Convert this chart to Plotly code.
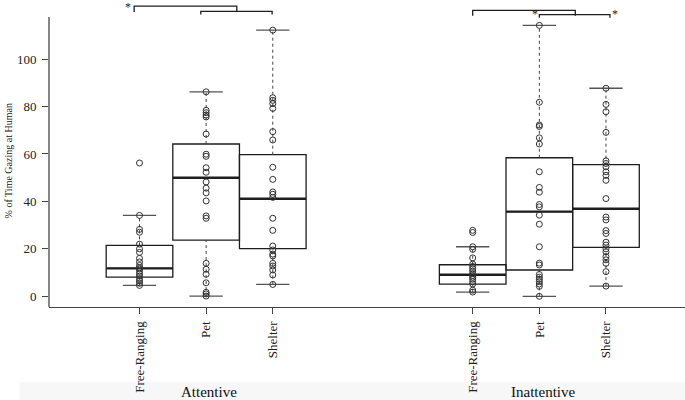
import plotly.graph_objects as go

# ---------------- data ----------------
groups = ["Attentive", "Inattentive"]
categories = ["Free-Ranging", "Pet", "Shelter"]
positions = [1, 2, 3, 6, 7, 8]
tick_labels = categories + categories

# box statistics
q1_vals = [8.1, 23.7, 20.1, 5.1, 11.1, 20.6]
median_vals = [11.8, 50.0, 41.1, 9.1, 35.7, 36.9]
q3_vals = [21.5, 64.2, 59.7, 13.3, 58.4, 55.5]
lower_whisker = [4.6, 0.1, 5.0, 1.8, 0.0, 4.3]
upper_whisker = [34.1, 86.2, 112.2, 20.9, 114.2, 87.7]

# individual observations
att_free = [56.2, 34.1, 28.2, 27.0, 22.0, 20.0, 18.5, 16.0, 14.5, 13.0, 12.0, 11.5,
            10.5, 9.5, 8.5, 7.5, 6.5, 5.5, 4.6]
att_pet = [86.2, 78.4, 77.4, 76.4, 75.6, 68.4, 59.9, 59.0, 54.2, 52.3, 48.2, 45.6,
           43.6, 40.2, 33.9, 32.9, 13.9, 11.4, 9.3, 5.7, 1.7, 1.0, 0.1]
att_shelter = [112.2, 83.7, 82.6, 81.2, 79.2, 69.4, 65.9, 54.4, 49.3, 44.0, 43.0, 41.7,
               32.9, 27.8, 21.2, 19.5, 17.8, 17.0, 13.9, 12.8, 11.1, 9.0, 5.0]
inatt_free = [27.8, 26.9, 20.9, 19.8, 16.2, 13.6, 12.6, 11.6, 10.6, 9.6, 8.8, 8.0,
              7.2, 6.2, 5.2, 2.6, 1.8]
inatt_pet = [114.2, 81.8, 72.2, 71.6, 66.8, 64.2, 52.5, 45.9, 43.9, 38.7, 37.7, 34.2,
             30.4, 20.9, 14.0, 13.2, 9.2, 8.1, 7.2, 6.2, 5.2, 4.2, 0.0]
inatt_shelter = [87.7, 80.9, 77.8, 69.1, 57.1, 56.0, 54.6, 52.5, 51.0, 48.9, 41.2, 33.4,
                 32.2, 27.7, 26.5, 22.8, 21.6, 20.0, 18.8, 16.7, 15.4, 13.9, 10.4, 4.3]
observations = [att_free, att_pet, att_shelter, inatt_free, inatt_pet, inatt_shelter]

y_ticks = [0, 20, 40, 60, 80, 100]

# significance brackets: (left pos, right pos, level, drop)
brackets = [
    (0.92, 2.46, 122.3, 2.5),
    (1.92, 2.99, 120.1, 1.3),
    (6.0, 7.54, 120.5, 2.2),
    (7.0, 8.06, 118.7, 1.3),
]
stars = [(0.82, 122.0), (6.93, 118.9), (8.14, 118.9)]

# ---------------- figure ----------------
SERIF = "Liberation Serif, Times New Roman, Times, serif"
BLACK = "#1e1e1e"
GREY = "#555555"
BOX_W = 1.0
CAP_HALF = 0.25

fig = go.Figure()

# boxes (no whiskers, drawn separately to get dashed lines)
fig.add_trace(go.Box(
    x=positions, q1=q1_vals, median=median_vals, q3=q3_vals,
    lowerfence=q1_vals, upperfence=q3_vals,
    width=BOX_W, whiskerwidth=0,
    line=dict(color=BLACK, width=1.3), fillcolor="rgba(255,255,255,0)",
    boxpoints=False, hoverinfo="skip", showlegend=False,
))

for i, p in enumerate(positions):
    # dashed whiskers
    fig.add_trace(go.Scatter(x=[p, p], y=[q3_vals[i], upper_whisker[i]], mode="lines",
                             line=dict(color="#444", width=1, dash="3px,3px"),
                             showlegend=False, hoverinfo="skip"))
    fig.add_trace(go.Scatter(x=[p, p], y=[lower_whisker[i], q1_vals[i]], mode="lines",
                             line=dict(color="#444", width=1, dash="3px,3px"),
                             showlegend=False, hoverinfo="skip"))
    # caps
    for v in (upper_whisker[i], lower_whisker[i]):
        fig.add_trace(go.Scatter(x=[p - CAP_HALF, p + CAP_HALF], y=[v, v], mode="lines",
                                 line=dict(color=GREY, width=1.3),
                                 showlegend=False, hoverinfo="skip"))
    # thick median
    fig.add_trace(go.Scatter(x=[p - BOX_W / 2, p + BOX_W / 2], y=[median_vals[i]] * 2,
                             mode="lines", line=dict(color=BLACK, width=2.4),
                             showlegend=False, hoverinfo="skip"))

# points
for p, obs in zip(positions, observations):
    fig.add_trace(go.Scatter(x=[p] * len(obs), y=obs, mode="markers",
                             marker=dict(symbol="circle-open", size=6,
                                         line=dict(color="#333", width=1), color="#333"),
                             showlegend=False, hoverinfo="skip"))

# brackets
for x0, x1, lvl, drop in brackets:
    fig.add_trace(go.Scatter(x=[x0, x0, x1, x1], y=[lvl - drop, lvl, lvl, lvl - drop],
                             mode="lines", line=dict(color=BLACK, width=1.3),
                             showlegend=False, hoverinfo="skip"))
for sx, sy in stars:
    fig.add_annotation(x=sx, y=sy, text="*", showarrow=False,
                       font=dict(family=SERIF, size=12, color=BLACK))

# y-axis line (L-shaped frame)
fig.add_shape(type="line", xref="paper", yref="y", x0=0, x1=0, y0=-4.5, y1=117.7,
              line=dict(color="#444", width=1.3))

# faint band at the bottom (scan artefact)
fig.add_shape(type="rect", xref="paper", yref="paper", x0=-0.046, x1=1.0,
              y0=-0.303, y1=-0.244, fillcolor="#f7f7f7", line=dict(width=0), layer="below")

# group titles
for gi, g in enumerate(groups):
    cx = sum(positions[gi * 3:gi * 3 + 3]) / 3
    fig.add_annotation(x=cx + 0.05, xref="x", y=-0.276, yref="paper", text=g,
                       showarrow=False, yanchor="middle",
                       font=dict(family=SERIF, size=15, color="#111"))

# y title
fig.add_annotation(xref="paper", x=-0.064, yref="y", y=57, text="% of Time Gazing at Human",
                   textangle=-90, showarrow=False, xanchor="center", yanchor="middle",
                   font=dict(family=SERIF, size=10, color="#222"))

fig.update_layout(
    width=685, height=400,
    margin=dict(l=49, r=0, t=0, b=93),
    paper_bgcolor="white", plot_bgcolor="white",
    showlegend=False,
    xaxis=dict(range=[-0.358, 9.186], tickvals=positions, ticktext=tick_labels,
               tickangle=-90, ticks="outside", ticklen=6, tickcolor="#444", tickwidth=1,
               showline=True, linecolor="#444", linewidth=1.3, showgrid=False,
               zeroline=False, ticklabelstandoff=2, automargin=False,
               tickfont=dict(family=SERIF, size=13, color="#222")),
    yaxis=dict(range=[-4.5, 124.9], tickvals=y_ticks, ticks="outside", ticklen=6,
               tickcolor="#444", tickwidth=1, showline=False, showgrid=False,
               zeroline=False, ticklabelstandoff=3, automargin=False,
               tickfont=dict(family=SERIF, size=13, color="#222")),
)

fig.write_html("out.html", config={"displayModeBar": False},
               post_script="document.body.style.margin='0';document.body.style.padding='0';")
